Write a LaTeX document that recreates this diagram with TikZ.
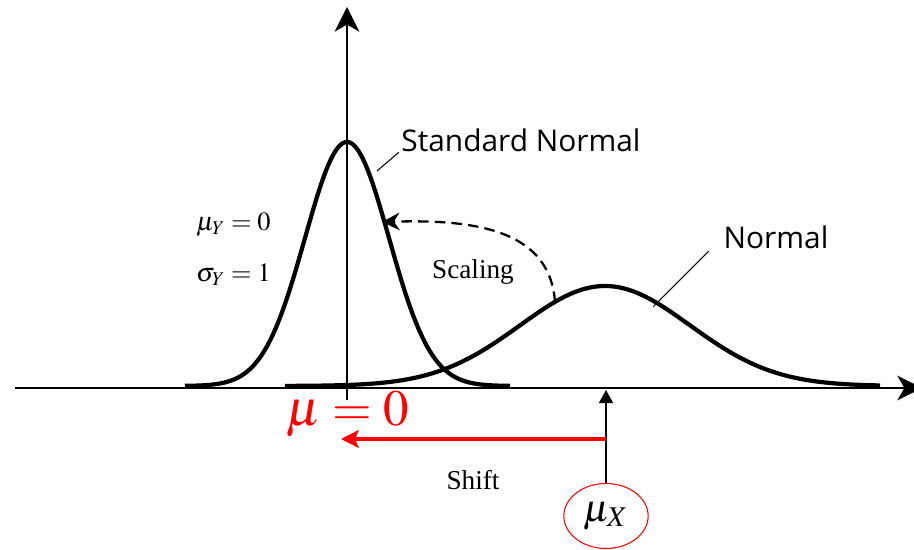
\documentclass[tikz,border=0pt]{standalone}
\usepackage{mathptmx}
\usepackage[no-math]{fontspec}
\setmainfont{Liberation Serif}
\newfontfamily\namefont{Open Sans}
\usetikzlibrary{shapes.geometric,arrows.meta,positioning}

\begin{document}
\begin{tikzpicture}[x=0.02cm, y=-0.02cm,
  curve/.style={line width=2.4pt, line join=round},
  axis/.style={line width=1.4pt, -{Stealth[length=14pt, width=14pt, inset=4pt]}},
  leader/.style={line width=0.6pt},
  curvename/.style={font=\namefont\fontsize{17}{20}\selectfont},
  note/.style={font=\fontsize{15.5}{18}\selectfont},
  stats/.style={font=\fontsize{15}{18}\selectfont, anchor=west},
  scalearrow/.style={line width=1.3pt, dash pattern=on 6pt off 3.5pt, -{Stealth[length=10pt, width=10pt]}},
  shiftarrow/.style={red, line width=2.8pt, -{Stealth[length=10pt, width=10pt, inset=2pt]}},
  uparrow/.style={line width=1pt, -{Triangle[length=7.5pt, width=8pt]}}]
  \useasboundingbox (0,0) rectangle (914,550);
  % axes
  \coordinate (xstart) at (15,388);
  \coordinate (xend) at (922,388);
  \coordinate (ybottom) at (347,400);
  \coordinate (ytop) at (347,7);
  \draw[axis] (xstart) -- (xend);
  \draw[axis] (ybottom) -- (ytop);
  % the two bells
  \draw[curve] plot[domain=185:510, samples=160] (\x,{386-244*exp(-0.5*((\x-347)/42)^2)});
  \draw[curve] plot[domain=285:880, samples=160] (\x,{386-100*exp(-0.5*((\x-605)/85)^2)});
  % names with leaders
  \node[curvename] (stdname) at (521,140) {Standard Normal};
  \node[curvename] (normname) at (776,237) {Normal};
  \coordinate (stdtouch) at (377,171);
  \coordinate (normtouch) at (653,307);
  \draw[leader] (stdtouch) -- ([xshift=2pt, yshift=3pt]stdname.south west);
  \draw[leader] (normtouch) -- ([xshift=-5pt, yshift=2pt]normname.south west);
  % parameters
  \node[stats] (muy) at (190,225) {$\mu_Y = 0$};
  \node[stats, below=0.3cm of muy.south west, anchor=north west] (sigmay) {$\sigma_Y = 1$};
  % scaling
  \coordinate (scalefrom) at (555,302);
  \coordinate (scaleto) at (382,222);
  \draw[scalearrow] (scalefrom) .. controls (550,232) and (480,219) .. (scaleto);
  \node[note] (scaling) at (473,272) {Scaling};
  % shift
  \node[red, font=\fontsize{29}{32}\selectfont] (muzero) at (348,414) {$\mu = 0$};
  \node[draw=red, line width=0.6pt, ellipse, minimum width=48pt, minimum height=37pt,
        font=\fontsize{22}{24}\selectfont, inner sep=0pt] (mux) at (606,516) {$\mu_X$};
  \coordinate (muxaxis) at (606,390);
  \coordinate (shiftstart) at (606,439);
  \coordinate (shiftend) at (341,439);
  \draw[uparrow] (mux) -- (muxaxis);
  \draw[shiftarrow] (shiftstart) -- (shiftend);
  \node[note] (shift) at (473,480) {Shift};
\end{tikzpicture}
\end{document}
